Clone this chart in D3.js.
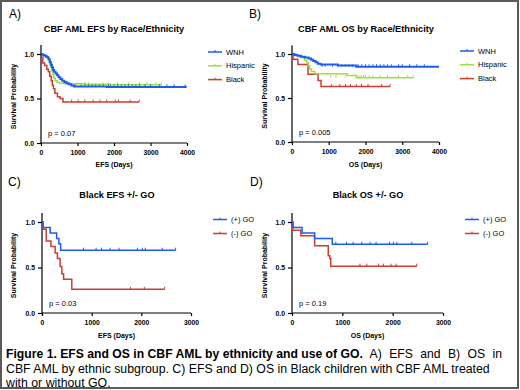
<!DOCTYPE html>
<html>
<head>
<meta charset="utf-8">
<script src="https://cdn.jsdelivr.net/npm/d3@7/dist/d3.min.js"></script>
<style>
	body { margin: 0; background: #fff; }
	svg { display: block; font-family: "Liberation Sans", Arial, sans-serif; }
	text { fill: #000; }
</style>
</head>
<body>
<svg id="chart" width="520" height="390"></svg>
<script>
// ---- data ----
const raceLabels = ["WNH", "Hispanic", "Black"]
const goLabels = ["(+) GO", "(-) GO"]

// A) EFS by race: [day, survival] steps, last day, censor days
const efsWnh = [[0,1],[40,0.99],[90,0.98],[140,0.97],[180,0.96],[210,0.94],[240,0.91],[270,0.88],[300,0.85],[330,0.82],[360,0.80],[400,0.78],[440,0.76],[480,0.74],[530,0.72],[580,0.70],[640,0.685],[700,0.67],[760,0.66],[830,0.645],[900,0.635],[1800,0.63]]
const efsWnhEnd = 3990
const efsWnhCens = [950,1100,1200,1300,1400,1500,1600,1700,1850,1900,2000,2100,2200,2300,2400,2500,2600,2700,2850,3000,3250,3450,3650,3950]
const efsHisp = [[0,1],[60,0.99],[120,0.98],[170,0.96],[200,0.93],[230,0.89],[260,0.85],[290,0.81],[320,0.77],[350,0.73],[390,0.70],[440,0.68],[520,0.67],[650,0.665],[1200,0.66],[1900,0.655]]
const efsHispEnd = 3300
const efsHispCens = [1000,1200,1300,1700,1850,2100,2400,2700,2900,3150,3300]
const efsBlack = [[0,1],[20,0.96],[50,0.90],[100,0.87],[160,0.83],[200,0.80],[240,0.75],[280,0.70],[310,0.65],[340,0.61],[380,0.56],[450,0.52],[520,0.50],[600,0.46]]
const efsBlackEnd = 2690
const efsBlackCens = [840,1020,1200,1430,1620,1800,2030,2120,2440,2690]

// B) OS by race
const osWnh = [[0,1],[60,0.99],[150,0.98],[250,0.97],[350,0.96],[450,0.95],[520,0.935],[580,0.92],[640,0.905],[700,0.89],[780,0.88],[1250,0.87],[1750,0.855]]
const osWnhEnd = 4000
const osWnhCens = [820,900,1100,1250,1350,1450,1550,1650,1800,1900,2000,2100,2200,2300,2400,2500,2600,2700,2900,3000,3200,3400,3600]
const osHisp = [[0,1],[100,0.98],[200,0.96],[340,0.93],[400,0.90],[440,0.87],[480,0.83],[530,0.80],[620,0.775],[1500,0.755],[1750,0.73]]
const osHispEnd = 3300
const osHispCens = [1050,1200,1450,1800,1850,1900,1950,2000,2100,2200,2400,2600,2900,3150,3300]
const osBlack = [[0,1],[30,0.94],[160,0.88],[435,0.77],[710,0.70],[790,0.63]]
const osBlackEnd = 2670
const osBlackCens = [1070,1300,1460,1590,1750,1890,2070,2440,2670]

// C) Black EFS +/- GO
const efsGoPlus = [[0,1],[20,0.94],[165,0.88],[295,0.82],[340,0.76],[375,0.69]]
const efsGoPlusEnd = 2690
const efsGoPlusCens = [835,1090,1200,1370,1550,1920,2020,2080,2420,2690]
const efsGoMinus = [[0,1],[20,0.92],[85,0.79],[180,0.73],[265,0.66],[310,0.60],[365,0.51],[400,0.43],[435,0.37],[600,0.26]]
const efsGoMinusEnd = 2470
const efsGoMinusCens = [1780,2060,2470]

// D) Black OS +/- GO
const osGoPlus = [[0,1],[20,0.94],[200,0.88],[450,0.82],[800,0.755]]
const osGoPlusEnd = 2695
const osGoPlusCens = [870,1085,1215,1385,1550,1670,1935,2015,2085,2380,2695]
const osGoMinus = [[0,1],[15,0.91],[175,0.85],[450,0.74],[720,0.63],[750,0.60],[770,0.515]]
const osGoMinusEnd = 2480
const osGoMinusCens = [1350,1485,1715,1815,1965,2070,2480]

const blue = "#1c5cf0"
const green = "#a2dc3e"
const red = "#cc3d33"

const svg = d3.select("#chart")

// frame
svg.append("rect")
	.attr("x", 1).attr("y", 1)
	.attr("width", 517).attr("height", 387)
	.attr("fill", "none")
	.attr("stroke", "#5a5a5a")
	.attr("stroke-width", 2)

function drawPanel(p) {
	const x = d3.scaleLinear().domain([0, p.xMax]).range([p.left, p.right])
	const y = d3.scaleLinear().domain([0, 1]).range([p.bottom, p.top])
	const g = svg.append("g")

	// panel letter
	g.append("text")
		.attr("x", p.letterX).attr("y", p.letterY)
		.style("font-size", "12px")
		.text(p.letter)

	// title
	g.append("text")
		.attr("x", p.titleX).attr("y", p.titleY)
		.attr("text-anchor", "middle")
		.style("font-size", "9.2px")
		.style("font-weight", "bold")
		.text(p.title)

	// y axis, major + minor ticks
	const yAxis = g.append("g")
		.attr("transform", `translate(${p.left},0)`)
	yAxis.append("line")
		.attr("x1", 0).attr("x2", 0)
		.attr("y1", y(1.1)).attr("y2", y(0))
		.attr("stroke", "#000").attr("stroke-width", 1.2)
	yAxis.call(
		d3.axisLeft(y).tickValues(d3.range(0, 1.01, 0.1))
			.tickSize(2).tickFormat("")
	)
	yAxis.call(
		d3.axisLeft(y).tickValues([0, 0.5, 1]).tickSize(4)
			.tickFormat(d3.format(".1f"))
	)
	yAxis.selectAll(".domain").remove()
	yAxis.selectAll("text")
		.attr("fill", "#000")
		.style("font-size", "6.8px")
		.style("font-weight", "bold")
		.style("font-family", "Liberation Sans, Arial, sans-serif")
	yAxis.selectAll(".tick line").attr("stroke-width", 1.2)

	// x axis
	const xAxis = g.append("g")
		.attr("transform", `translate(0,${p.bottom})`)
		.call(
			d3.axisBottom(x).tickValues(p.xTicks).tickSize(3)
				.tickFormat(d3.format("d"))
		)
	xAxis.select(".domain").attr("d", `M${p.left},0H${p.right}`).attr("stroke-width", 1.2)
	xAxis.selectAll(".tick line").attr("stroke-width", 1.2)
	xAxis.selectAll("text")
		.attr("fill", "#000")
		.style("font-size", "6.8px")
		.style("font-weight", "bold")
		.style("font-family", "Liberation Sans, Arial, sans-serif")
		.attr("dy", "0.9em")

	// axis titles
	g.append("text")
		.attr("x", (p.left + p.right) / 2).attr("y", p.xLabelY)
		.attr("text-anchor", "middle")
		.style("font-size", "7px")
		.style("font-weight", "bold")
		.text(p.xLabel)
	g.append("text")
		.attr("transform", `translate(${p.yLabelX},${(p.top + p.bottom) / 2 - 2}) rotate(-90)`)
		.attr("text-anchor", "middle")
		.style("font-size", "7px")
		.style("font-weight", "bold")
		.text("Survival Probability")

	// p value
	g.append("text")
		.attr("x", p.left + 7).attr("y", p.bottom - 7)
		.style("font-size", "7.5px")
		.text(p.pText)

	const line = d3.line()
		.x((d) => x(d[0]))
		.y((d) => y(d[1]))
		.curve(d3.curveStepAfter)

	// draw back to front so the first series sits on top
	p.series.slice().reverse().forEach((s) => {
		const last = s.steps[s.steps.length - 1][1]
		const pts = s.steps.concat([[s.end, last]])
		g.append("path")
			.datum(pts)
			.attr("fill", "none")
			.attr("stroke", s.color)
			.attr("stroke-width", s.width)
			.attr("d", line)
		g.selectAll(null)
			.data(s.cens)
			.enter()
			.append("line")
			.attr("x1", (d) => x(d)).attr("x2", (d) => x(d))
			.attr("y1", y(last) - 2.5).attr("y2", y(last))
			.attr("stroke", s.color)
			.attr("stroke-width", 1)
	})

	// legend
	p.series.forEach((s, i) => {
		const ly = p.legendY + i * p.legendStep
		g.append("line")
			.attr("x1", p.legendX).attr("x2", p.legendX + 14)
			.attr("y1", ly).attr("y2", ly)
			.attr("stroke", s.color).attr("stroke-width", 1.5)
		g.append("line")
			.attr("x1", p.legendX + 7).attr("x2", p.legendX + 7)
			.attr("y1", ly - 2).attr("y2", ly)
			.attr("stroke", s.color).attr("stroke-width", 1)
		g.append("text")
			.attr("x", p.legendX + 18).attr("y", ly + 2.5)
			.style("font-size", "7.5px")
			.text(s.label)
	})
}

drawPanel({
	letter: "A)", letterX: 9, letterY: 18,
	title: "CBF AML EFS by Race/Ethnicity", titleX: 114, titleY: 32,
	left: 41, right: 187, top: 54, bottom: 143, xMax: 4000,
	xTicks: [0, 1000, 2000, 3000, 4000],
	xLabel: "EFS (Days)", xLabelY: 167, yLabelX: 16,
	pText: "p = 0.07",
	legendX: 208, legendY: 52, legendStep: 13.8,
	series: [
		{ label: raceLabels[0], steps: efsWnh, end: efsWnhEnd, cens: efsWnhCens, color: blue, width: 2 },
		{ label: raceLabels[1], steps: efsHisp, end: efsHispEnd, cens: efsHispCens, color: green, width: 1.5 },
		{ label: raceLabels[2], steps: efsBlack, end: efsBlackEnd, cens: efsBlackCens, color: red, width: 1.5 },
	],
})

drawPanel({
	letter: "B)", letterX: 249, letterY: 18,
	title: "CBF AML OS by Race/Ethnicity", titleX: 366, titleY: 32,
	left: 292, right: 439, top: 54, bottom: 142, xMax: 4000,
	xTicks: [0, 1000, 2000, 3000, 4000],
	xLabel: "OS (Days)", xLabelY: 167, yLabelX: 267,
	pText: "p = 0.005",
	legendX: 460, legendY: 51, legendStep: 13.8,
	series: [
		{ label: raceLabels[0], steps: osWnh, end: osWnhEnd, cens: osWnhCens, color: blue, width: 2 },
		{ label: raceLabels[1], steps: osHisp, end: osHispEnd, cens: osHispCens, color: green, width: 1.5 },
		{ label: raceLabels[2], steps: osBlack, end: osBlackEnd, cens: osBlackCens, color: red, width: 1.5 },
	],
})

drawPanel({
	letter: "C)", letterX: 8, letterY: 186,
	title: "Black EFS +/- GO", titleX: 117, titleY: 198,
	left: 42, right: 191, top: 222, bottom: 313, xMax: 3000,
	xTicks: [0, 1000, 2000, 3000],
	xLabel: "EFS (Days)", xLabelY: 338, yLabelX: 16,
	pText: "p = 0.03",
	legendX: 213, legendY: 219.5, legendStep: 14,
	series: [
		{ label: goLabels[0], steps: efsGoPlus, end: efsGoPlusEnd, cens: efsGoPlusCens, color: blue, width: 1.5 },
		{ label: goLabels[1], steps: efsGoMinus, end: efsGoMinusEnd, cens: efsGoMinusCens, color: red, width: 1.5 },
	],
})

drawPanel({
	letter: "D)", letterX: 250, letterY: 186,
	title: "Black OS +/- GO", titleX: 368, titleY: 198,
	left: 292, right: 443, top: 222, bottom: 313, xMax: 3000,
	xTicks: [0, 1000, 2000, 3000],
	xLabel: "OS (Days)", xLabelY: 338, yLabelX: 267,
	pText: "p = 0.19",
	legendX: 465, legendY: 219.5, legendStep: 14,
	series: [
		{ label: goLabels[0], steps: osGoPlus, end: osGoPlusEnd, cens: osGoPlusCens, color: blue, width: 1.5 },
		{ label: goLabels[1], steps: osGoMinus, end: osGoMinusEnd, cens: osGoMinusCens, color: red, width: 1.5 },
	],
})

// caption
const caption = svg.append("text")
	.attr("x", 6).attr("y", 358)
	.style("font-size", "12.2px")
caption.append("tspan")
	.style("font-weight", "bold")
	.text("Figure 1. EFS and OS in CBF AML by ethnicity and use of GO.")
caption.append("tspan")
	.style("word-spacing", "4px")
	.text(" A) EFS and B) OS in")
svg.append("text")
	.attr("x", 6).attr("y", 372.5)
	.style("font-size", "12.3px")
	.text("CBF AML by ethnic subgroup. C) EFS and D) OS in Black children with CBF AML treated")
svg.append("text")
	.attr("x", 6).attr("y", 386.5)
	.style("font-size", "12.3px")
	.text("with or without GO.")
</script>
</body>
</html>
